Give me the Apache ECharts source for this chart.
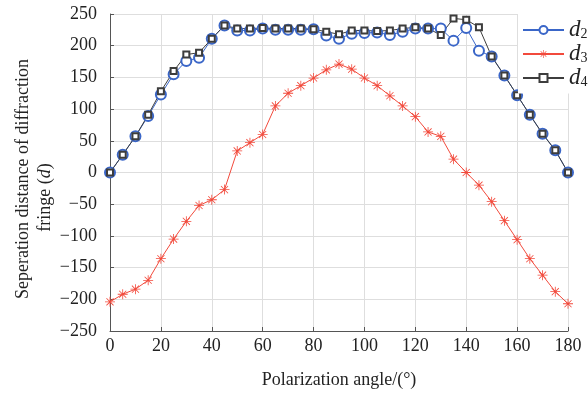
<!DOCTYPE html>
<html><head><meta charset="utf-8">
<script src="https://cdn.jsdelivr.net/npm/echarts@6/dist/echarts.min.js"></script>
<style>html,body{margin:0;padding:0;background:#fff}#c{width:588px;height:399px}</style>
</head><body><div id="c"></div>
<script>
const angles = [0,5,10,15,20,25,30,35,40,45,50,55,60,65,70,75,80,85,90,95,100,105,110,115,120,125,130,135,140,145,150,155,160,165,170,175,180];
const d2 = [0,28,57,89,123,155,176,181,211,232,224,224,227,225,225,225,226,216,211,219,220,221,217,222,227,227,227,208,228,192,183,153,122,91,61,35,0];
const d3 = [-204,-192,-184,-170,-136,-105,-77,-52,-43,-27,34,47,60,105,125,137,149,162,171,163,149,137,121,105,88,64,57,21,0,-20,-46,-76,-106,-136,-162,-188,-207];
const d4 = [0,28,57,91,128,160,186,189,211,232,227,227,228,227,227,227,226,222,218,224,224,223,224,227,229,227,217,243,241,229,183,153,122,91,61,35,0];
const xTicks = {min:0, max:180, interval:20};
const yTicks = {min:-250, max:250, interval:50};
const seriesNames = ['d2','d3','d4'];

const serif = 'Liberation Serif';
const star = 'path://M9.2 0L10.8 0L10.8 20L9.2 20Z M0 9.2L20 9.2L20 10.8L0 10.8Z M3.47 2.33L17.67 16.53L16.53 17.67L2.33 3.47Z M17.67 3.47L3.47 17.67L2.33 16.53L16.53 2.33Z';
const chart = echarts.init(document.getElementById('c'));
const mk = (arr) => angles.map((a,i)=>[a,arr[i]]);
chart.setOption({
  animation:false,
  grid:{left:110,right:20,top:14,bottom:68,containLabel:false,outerBoundsMode:'none'},
  xAxis:{type:'value',min:xTicks.min,max:xTicks.max,interval:xTicks.interval,
    name:'Polarization angle/(°)',nameLocation:'middle',nameGap:40,nameMoveOverlap:false,
    nameTextStyle:{fontFamily:serif,fontSize:18,color:'#222'},
    axisLine:{onZero:false,lineStyle:{color:'#555',width:1}},
    axisTick:{inside:true,length:4,lineStyle:{color:'#555'}},
    axisLabel:{fontFamily:serif,fontSize:18,color:'#222',margin:6},
    splitLine:{show:true,lineStyle:{color:'#dedede',width:1}}},
  yAxis:{type:'value',min:yTicks.min,max:yTicks.max,interval:yTicks.interval,
    name:'Seperation distance of diffraction\nfringe ({i|d}){p|}',nameLocation:'middle',nameGap:54,nameMoveOverlap:false,
    nameTextStyle:{fontFamily:serif,fontSize:18,color:'#222',lineHeight:22,padding:[0,13,0,0],
      rich:{i:{fontFamily:serif,fontSize:18,fontStyle:'italic',color:'#222'},
            p:{width:1,padding:[0,36,0,0]}}},
    axisLine:{show:true,onZero:false,lineStyle:{color:'#555',width:1}},
    axisTick:{show:true,inside:true,length:4,lineStyle:{color:'#555'}},
    axisLabel:{fontFamily:serif,fontSize:18,color:'#222',margin:13,
      formatter:v=>String(v).replace('-','\u2212')},
    splitLine:{show:true,lineStyle:{color:'#dedede',width:1}}},
  legend:{orient:'vertical',left:518,top:13,padding:[4,6,4,4],backgroundColor:'#fff',
    itemWidth:41,itemHeight:10,itemGap:-0.5,
    data:seriesNames,
    formatter:n=>'{a|d}{s|'+n.slice(1)+'}',
    textStyle:{rich:{a:{fontFamily:serif,fontSize:23,fontStyle:'italic',color:'#222',lineHeight:22},
      s:{fontFamily:serif,fontSize:14,color:'#222',verticalAlign:'bottom',lineHeight:22,padding:[10,0,0,0]}}}},
  series:[
    {name:'d2',type:'line',data:mk(d2),symbol:'emptyCircle',symbolSize:10,
      lineStyle:{color:'#3a66c8',width:1},itemStyle:{color:'#3a66c8',borderWidth:1}},
    {name:'d3',type:'line',data:mk(d3),symbol:star,symbolSize:10,
      lineStyle:{color:'#f24a3c',width:1},itemStyle:{color:'#f24a3c'}},
    {name:'d4',type:'line',data:mk(d4),symbol:'emptyRect',symbolSize:6,
      lineStyle:{color:'#3d3d3d',width:1},itemStyle:{color:'#3d3d3d',borderWidth:0.8}}
  ]
});
</script></body></html>
